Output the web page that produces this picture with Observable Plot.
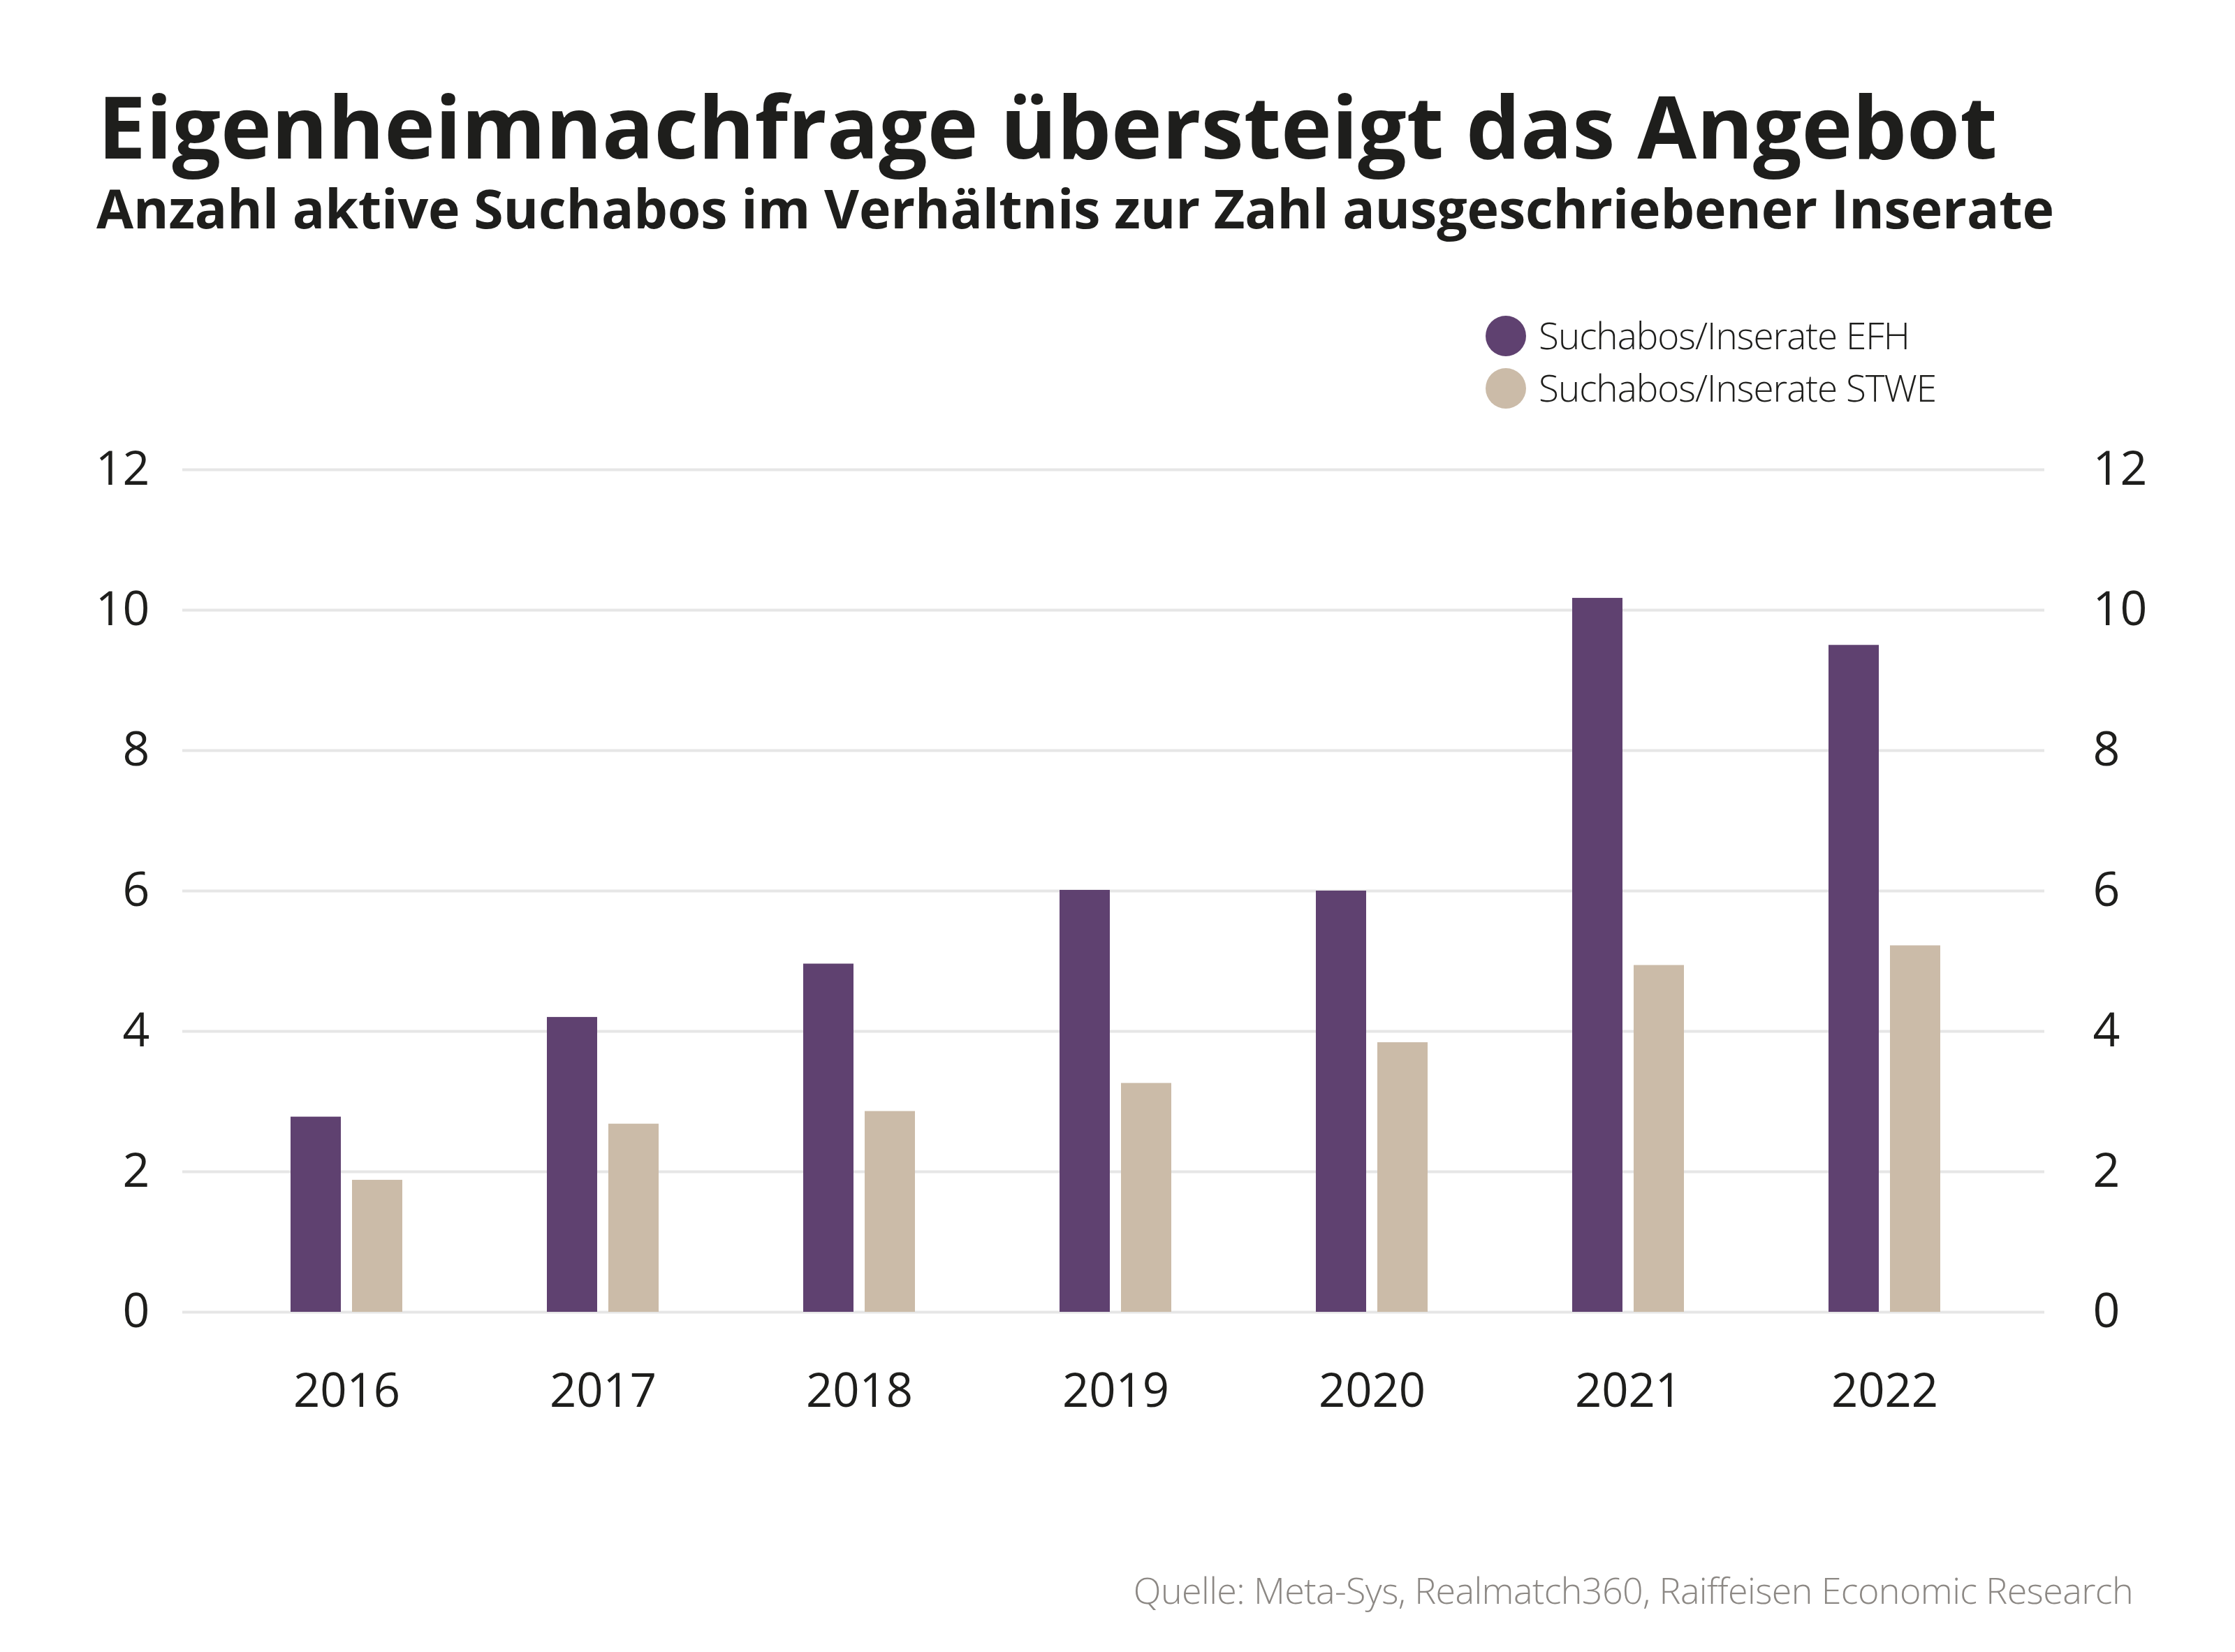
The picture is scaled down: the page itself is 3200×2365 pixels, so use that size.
<!DOCTYPE html>
<html>
<head>
<meta charset="utf-8">
<script src="https://cdn.jsdelivr.net/npm/d3@7"></script>
<script src="https://cdn.jsdelivr.net/npm/@observablehq/plot@0.6"></script>
<style>
  html, body { margin: 0; padding: 0; background: #ffffff; }
  body { width: 3200px; height: 2365px; position: relative; overflow: hidden; font-family: "Open Sans", "Noto Sans", sans-serif; color: #1e1e1c; }
  .abs { position: absolute; white-space: nowrap; line-height: 1; }
  #title { left: 140px; top: 118px; font-size: 123px; font-weight: 700; }
  #subtitle { left: 138px; top: 259px; font-size: 77px; font-weight: 700; letter-spacing: -0.15px; }
  #legend { left: 2127px; top: 452px; }
  .lg-row { position: absolute; left: 0; height: 58px; width: 900px; }
  .lg-dot { position: absolute; left: 0; top: 0; width: 58px; height: 58px; border-radius: 50%; }
  .lg-text { position: absolute; left: 76px; top: 1px; font-size: 53px; font-weight: 300; line-height: 1; white-space: nowrap; letter-spacing: -1px; }
  #source { right: 146px; top: 2250px; font-size: 52px; font-weight: 300; color: #8c8884; letter-spacing: -0.6px; }
  #chart { position: absolute; left: 0; top: 600px; }
</style>
</head>
<body>
<div id="title" class="abs"></div>
<div id="subtitle" class="abs"></div>
<div id="legend" class="abs"></div>
<div id="chart"></div>
<div id="source" class="abs"></div>
<script>
const titleText = "Eigenheimnachfrage übersteigt das Angebot";
const subtitleText = "Anzahl aktive Suchabos im Verhältnis zur Zahl ausgeschriebener Inserate";
const sourceText = "Quelle: Meta-Sys, Realmatch360, Raiffeisen Economic Research";

const years = ["2016", "2017", "2018", "2019", "2020", "2021", "2022"];
const efh = [2.78, 4.20, 4.96, 6.01, 6.00, 10.17, 9.50];
const stwe = [1.88, 2.68, 2.86, 3.26, 3.84, 4.94, 5.22];
const seriesNames = ["Suchabos/Inserate EFH", "Suchabos/Inserate STWE"];
const seriesColors = ["#5f4170", "#cbbba8"];
const yTicks = [0, 2, 4, 6, 8, 10, 12];

document.getElementById("title").textContent = titleText;
document.getElementById("subtitle").textContent = subtitleText;
document.getElementById("source").textContent = sourceText;

const legend = document.getElementById("legend");
seriesNames.forEach((name, i) => {
  const row = document.createElement("div");
  row.className = "lg-row";
  row.style.top = (i * 75) + "px";
  const dot = document.createElement("div");
  dot.className = "lg-dot";
  dot.style.background = seriesColors[i];
  const txt = document.createElement("div");
  txt.className = "lg-text";
  txt.textContent = name;
  row.appendChild(dot);
  row.appendChild(txt);
  legend.appendChild(row);
});

const table = years.map((year, i) => ({year, efh: efh[i], stwe: stwe[i]}));

const chart = Plot.plot({
  width: 3200,
  height: 1500,
  marginTop: 72,
  marginBottom: 222,
  marginLeft: 261,
  marginRight: 273,
  style: {fontFamily: "'Open Sans', 'Noto Sans', sans-serif", color: "#1e1e1c", background: "transparent"},
  x: {type: "band", domain: years, paddingInner: 0.5652, paddingOuter: 0.4049, align: 0.51},
  y: {domain: [0, 12]},
  marks: [
    Plot.ruleY(yTicks, {stroke: "#e6e6e6", strokeWidth: 4}),
    Plot.barY(table, {x: "year", y: "efh", fill: seriesColors[0], insetRight: 88}),
    Plot.barY(table, {x: "year", y: "stwe", fill: seriesColors[1], insetLeft: 88}),
    Plot.axisY({anchor: "left", ticks: yTicks, tickSize: 0, tickPadding: 47, fontSize: 68, label: null}),
    Plot.axisY({anchor: "right", ticks: yTicks, tickSize: 0, tickPadding: 69, fontSize: 68, label: null}),
    Plot.axisX({anchor: "bottom", tickSize: 0, tickPadding: 88, fontSize: 67, label: null})
  ]
});
document.getElementById("chart").appendChild(chart);
</script>
</body>
</html>
